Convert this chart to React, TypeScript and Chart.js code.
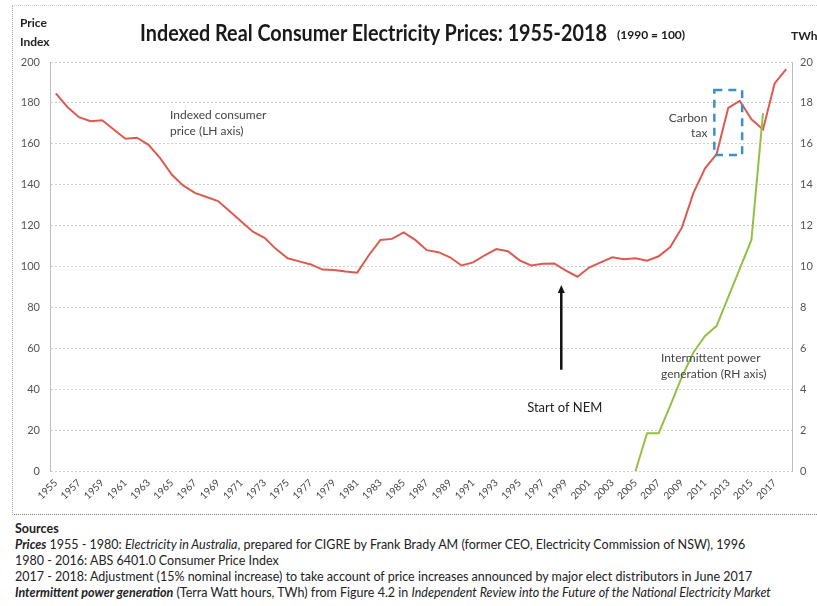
import React, { useEffect, useRef } from 'react';
import { Chart, registerables } from 'chart.js';
Chart.register(...registerables);

const years = [
  '1955','1956','1957','1958','1959','1960','1961','1962','1963','1964',
  '1965','1966','1967','1968','1969','1970','1971','1972','1973','1974',
  '1975','1976','1977','1978','1979','1980','1981','1982','1983','1984',
  '1985','1986','1987','1988','1989','1990','1991','1992','1993','1994',
  '1995','1996','1997','1998','1999','2000','2001','2002','2003','2004',
  '2005','2006','2007','2008','2009','2010','2011','2012','2013','2014',
  '2015','2016','2017','2018'
];

const priceIndex = [
  184.7, 178, 173, 171, 171.5, 167, 162.5, 163, 159.5, 153,
  145, 139.5, 136, 134, 132, 127, 122, 117, 114, 108.5,
  104, 102.5, 101, 98.5, 98.3, 97.5, 97, 105.5, 113, 113.5,
  116.7, 113, 108, 107, 104.5, 100.5, 102, 105.5, 108.5, 107.5,
  103, 100.5, 101.3, 101.5, 98, 95, 99.5, 102, 104.5, 103.5,
  104, 102.8, 105, 109.5, 119, 136, 148, 155, 177.5, 181,
  172, 167, 189.5, 196.5
];

const windYears = ['2005','2006','2007','2008','2009','2010','2011','2012','2013','2014','2015','2016'];
const windTWh = [0, 1.85, 1.85, 3.2, 4.6, 5.8, 6.6, 7.1, 8.5, 9.9, 11.3, 17.5];

const FONT = "Lato, 'Open Sans', sans-serif";

const notesPlugin = {
  id: 'notes',
  afterDatasetsDraw(chart: any) {
    const { ctx, scales } = chart;
    const x = scales.x;
    const y = scales.y;
    const xAt = (yr: number) => x.getPixelForValue(yr - 1955);
    const yAt = (v: number) => y.getPixelForValue(v);
    ctx.save();
    ctx.fillStyle = '#444';
    ctx.font = `12px ${FONT}`;
    ctx.textBaseline = 'middle';
    ctx.textAlign = 'left';
    ctx.fillText('Indexed consumer', xAt(1964.85), yAt(174));
    ctx.fillText('price (LH axis)', xAt(1964.85), yAt(166));
    ctx.fillText('Intermittent power', xAt(2007.2), yAt(55.3));
    ctx.fillText('generation (RH axis)', xAt(2007.2), yAt(47.4));
    ctx.textAlign = 'right';
    ctx.fillText('Carbon', xAt(2011.2), yAt(172.5));
    ctx.fillText('tax', xAt(2011.2), yAt(165));
    ctx.textAlign = 'center';
    ctx.fillStyle = '#222';
    ctx.font = `13px ${FONT}`;
    ctx.fillText('Start of NEM', xAt(1998.9), yAt(31));

    // carbon tax box
    ctx.strokeStyle = '#3d8fcf';
    ctx.lineWidth = 2.5;
    ctx.setLineDash([8, 6]);
    const bx1 = xAt(2011.8), bx2 = xAt(2014.2);
    const by1 = yAt(186.3), by2 = yAt(154.5);
    ctx.strokeRect(bx1, by1, bx2 - bx1, by2 - by1);
    ctx.setLineDash([]);

    // arrow
    const ax = xAt(1998.6);
    const ayBottom = yAt(49.5);
    const ayTop = yAt(91);
    ctx.strokeStyle = '#111';
    ctx.fillStyle = '#111';
    ctx.lineWidth = 2.5;
    ctx.beginPath();
    ctx.moveTo(ax, ayBottom);
    ctx.lineTo(ax, ayTop + 6);
    ctx.stroke();
    ctx.beginPath();
    ctx.moveTo(ax, ayTop);
    ctx.lineTo(ax - 3.5, ayTop + 8);
    ctx.lineTo(ax + 3.5, ayTop + 8);
    ctx.closePath();
    ctx.fill();
    ctx.restore();
  }
};

export default function App() {
  const ref = useRef<HTMLCanvasElement | null>(null);

  useEffect(() => {
    if (!ref.current) return;
    const chart = new Chart(ref.current, {
      type: 'line',
      data: {
        labels: years,
        datasets: [
          {
            label: 'Intermittent power generation (TWh)',
            data: windYears.map((yr, i) => ({ x: yr, y: windTWh[i] })),
            yAxisID: 'y1',
            borderColor: '#93c047',
            borderWidth: 2,
            pointRadius: 0,
            tension: 0,
            order: 0,
          },
          {
            label: 'Indexed consumer price',
            data: priceIndex,
            yAxisID: 'y',
            borderColor: '#dc5b50',
            borderWidth: 2,
            pointRadius: 0,
            tension: 0,
            order: 1,
          },
        ],
      },
      options: {
        responsive: false,
        animation: false,
        devicePixelRatio: 1,
        layout: { padding: { top: 62, left: 8, right: 0, bottom: 0 } },
        plugins: {
          legend: { display: false },
          tooltip: { enabled: false },
          title: { display: false },
        },
        scales: {
          x: {
            type: 'category',
            offset: true,
            grid: { display: false, drawTicks: false },
            border: { display: false },
            ticks: {
              autoSkip: false,
              maxRotation: 45,
              minRotation: 45,
              padding: 6,
              color: '#444',
              font: { size: 10, family: FONT },
              callback: (_v: any, i: number) => (i % 2 === 0 ? years[i] : ''),
            },
            afterFit: (s: any) => { s.height = 42; },
          },
          y: {
            position: 'left',
            min: 0,
            max: 200,
            ticks: { stepSize: 20, padding: 10, color: '#555', font: { size: 11, family: FONT } },
            grid: { color: '#d0d0d0', drawTicks: false, lineWidth: 1 },
            border: { display: true, color: '#bdbdbd', dash: [2, 2] },
            afterFit: (s: any) => { s.width = 42; },
          },
          y1: {
            position: 'right',
            min: 0,
            max: 20,
            ticks: { stepSize: 2, padding: 8, color: '#555', font: { size: 11, family: FONT } },
            grid: { drawOnChartArea: false, drawTicks: false },
            border: { display: true, color: '#bdbdbd', dash: [2, 2] },
            afterFit: (s: any) => { s.width = 25; },
          },
        },
      },
      plugins: [notesPlugin],
    } as any);
    return () => chart.destroy();
  }, []);

  return (
    <div style={{ position: 'absolute', left: 0, top: 0, width: 817, height: 606, background: '#fff', overflow: 'hidden', fontFamily: FONT, color: '#222' }}>
      <div style={{ position: 'absolute', left: 12, top: 5, width: 820, height: 508, borderLeft: '1px dotted #aaa', borderTop: '1px dotted #ccc', borderBottom: '1px dotted #888' }} />
      <canvas ref={ref} width={817} height={513} style={{ position: 'absolute', left: 0, top: 0, width: 817, height: 513 }} />
      <div style={{ position: 'absolute', left: 20, top: 13, fontSize: 12, fontWeight: 'bold', lineHeight: '19px' }}>
        <div>Price</div>
        <div>Index</div>
      </div>
      <div style={{ position: 'absolute', left: 140, top: 19, whiteSpace: 'nowrap', fontWeight: 'bold', color: '#1a1a1a', fontSize: 22, transform: 'scaleX(0.9)', transformOrigin: 'left center' }}>
        Indexed Real Consumer Electricity Prices: 1955-2018
      </div>
      <div style={{ position: 'absolute', left: 617, top: 27, whiteSpace: 'nowrap', fontWeight: 'bold', color: '#1a1a1a', fontSize: 12 }}>
        (1990 = 100)
      </div>
      <div style={{ position: 'absolute', left: 791, top: 28, fontSize: 12, fontWeight: 'bold' }}>TWh</div>
      <div style={{ position: 'absolute', left: 15, top: 521, fontSize: 12.5, lineHeight: '16px', whiteSpace: 'nowrap', color: '#222' }}>
        <div style={{ fontWeight: 'bold' }}>Sources</div>
        <div><b><i>Prices</i></b> 1955 - 1980: <i>Electricity in Australia</i>, prepared for CIGRE by Frank Brady AM (former CEO, Electricity Commission of NSW), 1996</div>
        <div>1980 - 2016: ABS 6401.0 Consumer Price Index</div>
        <div>2017 - 2018: Adjustment (15% nominal increase) to take account of price increases announced by major elect distributors in June 2017</div>
        <div><b><i>Intermittent power generation</i></b> (Terra Watt hours, TWh) from Figure 4.2 in <i>Independent Review into the Future of the National Electricity Market</i></div>
      </div>
    </div>
  );
}
